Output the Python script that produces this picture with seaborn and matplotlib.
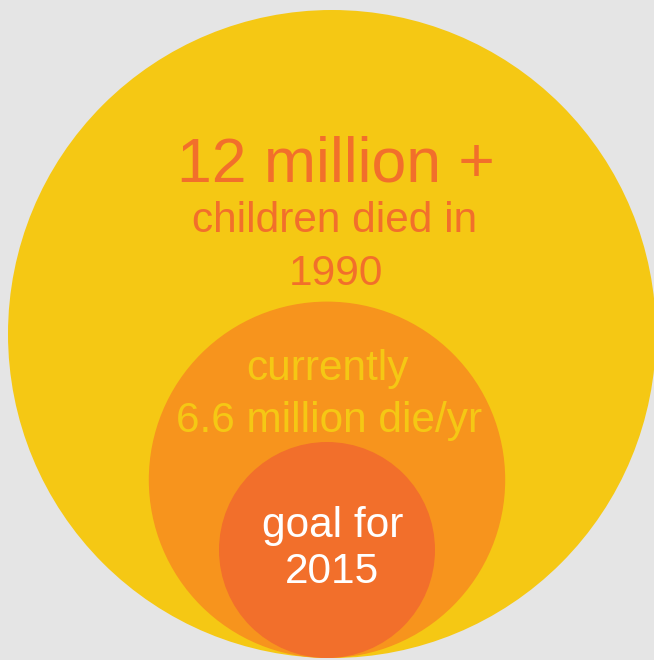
import matplotlib
matplotlib.use('Agg')
import matplotlib.pyplot as plt
from matplotlib.patches import Circle
import seaborn as sns

# deaths of children under five, millions per year
labels = ['1990', 'current', 'goal 2015']
deaths = [12, 6.6, 4]
fill_colors = ['#f5c814', '#f7941d', '#f26f2b']

# text lines per circle: (text, size, baseline y, x)
texts = [
    [('12 million +', 45, 182, 336), ('children died in', 30.5, 232, 335), ('1990', 30.5, 285, 336)],
    [('currently', 30.5, 380, 327), ('6.6 million die/yr', 30.5, 432, 329)],
    [('goal for', 30.5, 537, 333), ('2015', 30.5, 583, 332)],
]
text_colors = ['#f26f2b', '#f5c814', '#ffffff']

sns.set_style('white')
plt.rcParams['font.family'] = ['Liberation Sans', 'DejaVu Sans']

W, H = 654, 660
fig = plt.figure(figsize=(W / 100, H / 100), dpi=100)
fig.patch.set_facecolor('#e5e5e5')
ax = fig.add_axes([0, 0, 1, 1])
ax.set_facecolor('#e5e5e5')
ax.set_xlim(0, W)
ax.set_ylim(H, 0)
ax.set_aspect('equal')
ax.axis('off')

# radius is proportional to the value, circles share the bottom point
max_r = 324
bottom = 658
centers_x = [332, 327, 327]
for val, cx, col in zip(deaths, centers_x, fill_colors):
    r = val / deaths[0] * max_r
    ax.add_patch(Circle((cx, bottom - r), r, facecolor=col, edgecolor='none'))

for lines, tc in zip(texts, text_colors):
    for s, size, y, x in lines:
        ax.text(x, y, s, ha='center', va='baseline', fontsize=size, color=tc)

fig.savefig('out.png', dpi=100, facecolor=fig.get_facecolor())
